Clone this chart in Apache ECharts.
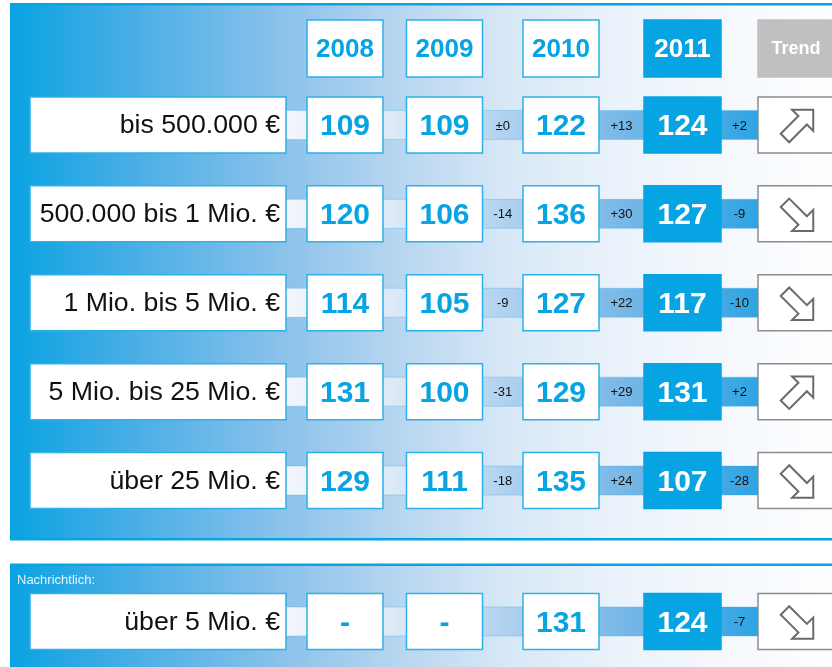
<!DOCTYPE html>
<html>
<head>
<meta charset="utf-8">
<script src="https://cdn.jsdelivr.net/npm/echarts@6/dist/echarts.min.js"></script>
<style>
  html, body { margin: 0; padding: 0; background: #fff; }
  #chart { width: 832px; height: 667px; }
</style>
</head>
<body>
<div id="chart"></div>
<script>
// data
var years = ['2008', '2009', '2010', '2011'];
var trendTitle = 'Trend';
var classes = ['bis 500.000 €', '500.000 bis 1 Mio. €', '1 Mio. bis 5 Mio. €', '5 Mio. bis 25 Mio. €', 'über 25 Mio. €'];
var v2008 = [109, 120, 114, 131, 129];
var v2009 = [109, 106, 105, 100, 111];
var v2010 = [122, 136, 127, 129, 135];
var v2011 = [124, 127, 117, 131, 107];

var memoTitle = 'Nachrichtlich:';
var memoClasses = ['über 5 Mio. €'];
var memo2008 = [null];
var memo2009 = [null];
var memo2010 = [131];
var memo2011 = [124];

// layout (pixels)
var COLS = [158, 345, 444.5, 561, 682.5, 798];   // centre x: label, 2008..2011, trend
var WIDTHS = [256, 76, 76, 76, 77, 80];
var BOX_H = 56;
var FONT = '"Liberation Sans", Arial, sans-serif';
var CYAN = '#06a4e2';
var EDGE = '#2eb0e8';

var chart = echarts.init(document.getElementById('chart'));

function fmtDiff(d) {
    if (d === 0) return '±0';
    return d > 0 ? '+' + d : '-' + Math.abs(d);
}

function arrowPoints(cx, cy, up) {
    var h = 15, w = 6, s = 25;
    var pts = [[-s, -w], [0, -w], [0, -h], [h, 0], [0, h], [0, w], [-s, w]];
    var a = up ? -Math.PI / 4 : Math.PI / 4;
    var c = Math.cos(a), sn = Math.sin(a);
    var r = pts.map(function (p) { return [p[0] * c - p[1] * sn, p[0] * sn + p[1] * c]; });
    var xs = r.map(function (p) { return p[0]; });
    var ys = r.map(function (p) { return p[1]; });
    var mx = (Math.min.apply(null, xs) + Math.max.apply(null, xs)) / 2;
    var my = (Math.min.apply(null, ys) + Math.max.apply(null, ys)) / 2;
    return r.map(function (p) { return [p[0] - mx + cx, p[1] - my + cy]; });
}

var stripGrad = new echarts.graphic.LinearGradient(0, 0, 1, 0, [
    { offset: 0, color: '#f2f6fc' },
    { offset: 0.23, color: '#dce9f6' },
    { offset: 0.45, color: '#b3d3ef' },
    { offset: 0.71, color: '#79b8e7' },
    { offset: 1, color: '#2ea4e3' }
]);

function rowRenderer(labels, cols) {
    return function (params, api) {
        var i = api.value(1);
        var cy = api.coord([0, i])[1];
        var x = function (k) { return api.coord([COLS[k], i])[0]; };
        var top = cy - BOX_H / 2;
        var kids = [];
        var left = x(0) + WIDTHS[0] / 2, right = x(5) - WIDTHS[5] / 2;
        kids.push({
            type: 'rect',
            shape: { x: left, y: cy - 14.5, width: right - left, height: 29 },
            style: { fill: stripGrad, stroke: 'rgba(70,175,232,0.35)', lineWidth: 1 }
        });
        // class label
        kids.push({
            type: 'rect',
            shape: { x: x(0) - WIDTHS[0] / 2, y: top, width: WIDTHS[0], height: BOX_H },
            style: { fill: '#fff', stroke: EDGE, lineWidth: 1.5 }
        });
        kids.push({
            type: 'text',
            style: {
                text: labels[i], x: x(0) + WIDTHS[0] / 2 - 6, y: cy + 1,
                align: 'right', verticalAlign: 'middle',
                font: '26.7px ' + FONT, fill: '#111'
            }
        });
        // year values
        for (var k = 0; k < 4; k++) {
            var v = cols[k][i];
            var last = k === 3;
            kids.push({
                type: 'rect',
                shape: { x: x(k + 1) - WIDTHS[k + 1] / 2, y: top, width: WIDTHS[k + 1], height: BOX_H },
                style: { fill: last ? CYAN : '#fff', stroke: last ? CYAN : EDGE, lineWidth: 1.5 }
            });
            kids.push({
                type: 'text',
                style: {
                    text: v == null ? '-' : String(v), x: x(k + 1), y: cy + 2,
                    align: 'center', verticalAlign: 'middle',
                    font: 'bold 30px ' + FONT, fill: last ? '#fff' : CYAN
                }
            });
            if (k > 0 && v != null && cols[k - 1][i] != null) {
                var gx = (x(k + 1) + WIDTHS[k + 1] / 2 + x(k + 2) - WIDTHS[k + 2] / 2) / 2;
                kids.push({
                    type: 'text',
                    style: {
                        text: fmtDiff(v - cols[k - 1][i]), x: gx, y: cy + 1,
                        align: 'center', verticalAlign: 'middle',
                        font: '13px ' + FONT, fill: '#111'
                    }
                });
            }
        }
        // trend
        kids.push({
            type: 'rect',
            shape: { x: x(5) - WIDTHS[5] / 2, y: top, width: WIDTHS[5], height: BOX_H },
            style: { fill: '#fff', stroke: '#8c8c8c', lineWidth: 1.5 }
        });
        var up = cols[3][i] - cols[2][i] > 0;
        kids.push({
            type: 'polygon',
            shape: { points: arrowPoints(797, cy + 1, up) },
            style: { fill: '#fff', stroke: '#6b6b6b', lineWidth: 2, lineJoin: 'miter' }
        });
        return { type: 'group', children: kids };
    };
}

function headerRenderer(params, api) {
    var k = params.dataIndex;
    var c = api.coord([api.value(0), 0]);
    var isTrend = k === 4;
    var fill = k === 3 ? CYAN : (isTrend ? '#c0c0c0' : '#fff');
    return {
        type: 'group',
        children: [{
            type: 'rect',
            shape: { x: c[0] - WIDTHS[k + 1] / 2, y: c[1] - 28.5, width: WIDTHS[k + 1], height: 57 },
            style: { fill: fill, stroke: k < 3 ? EDGE : fill, lineWidth: 1.5 }
        }, {
            type: 'text',
            style: {
                text: isTrend ? trendTitle : years[k], x: isTrend ? 796 : c[0], y: c[1] + 1,
                align: 'center', verticalAlign: 'middle',
                font: 'bold ' + (isTrend ? 18 : 26) + 'px ' + FONT,
                fill: (k >= 3) ? '#fff' : CYAN
            }
        }]
    };
}

var panelGrad = new echarts.graphic.LinearGradient(0, 0, 1, 0, [
    { offset: 0, color: '#09a3e2' },
    { offset: 0.12, color: '#3eabe5' },
    { offset: 0.34, color: '#8ec3eb' },
    { offset: 0.474, color: '#b7d6f0' },
    { offset: 0.596, color: '#d6e7f6' },
    { offset: 0.718, color: '#e8f1fa' },
    { offset: 0.84, color: '#f3f7fc' },
    { offset: 1, color: '#fdfeff' }
]);

var headerCols = years.concat([trendTitle]);

chart.setOption({
    backgroundColor: '#fff',
    animation: false,
    graphic: [
        { type: 'rect', z: 0, shape: { x: 10, y: 3, width: 822, height: 537 }, style: { fill: panelGrad } },
        { type: 'rect', z: 0, shape: { x: 10, y: 3, width: 822, height: 2.5 }, style: { fill: CYAN } },
        { type: 'rect', z: 0, shape: { x: 10, y: 538, width: 822, height: 2.5 }, style: { fill: CYAN } },
        { type: 'rect', z: 0, shape: { x: 10, y: 564, width: 822, height: 103 }, style: { fill: panelGrad } },
        { type: 'rect', z: 0, shape: { x: 10, y: 563.5, width: 822, height: 2.5 }, style: { fill: CYAN } },
        {
            type: 'text', z: 1,
            style: { text: memoTitle, x: 17, y: 580, verticalAlign: 'middle', font: '13px ' + FONT, fill: '#e8f4fb' }
        }
    ],
    grid: [
        { left: 0, width: 832, top: 80.5, height: 444.5 },
        { left: 0, width: 832, top: 577, height: 89 },
        { left: 0, width: 832, top: 20, height: 57 }
    ],
    xAxis: [0, 1, 2].map(function (g) {
        return { type: 'value', gridIndex: g, min: 0, max: 832, show: false };
    }),
    yAxis: [
        { type: 'category', gridIndex: 0, data: classes, inverse: true, show: false },
        { type: 'category', gridIndex: 1, data: memoClasses, inverse: true, show: false },
        { type: 'category', gridIndex: 2, data: ['header'], show: false }
    ],
    series: [{
        type: 'custom', xAxisIndex: 0, yAxisIndex: 0, z: 5,
        renderItem: rowRenderer(classes, [v2008, v2009, v2010, v2011]),
        data: classes.map(function (c, i) { return [COLS[0], i]; })
    }, {
        type: 'custom', xAxisIndex: 1, yAxisIndex: 1, z: 5,
        renderItem: rowRenderer(memoClasses, [memo2008, memo2009, memo2010, memo2011]),
        data: memoClasses.map(function (c, i) { return [COLS[0], i]; })
    }, {
        type: 'custom', xAxisIndex: 2, yAxisIndex: 2, z: 5,
        renderItem: headerRenderer,
        data: headerCols.map(function (c, k) { return [COLS[k + 1], 0]; })
    }]
});
</script>
</body>
</html>
